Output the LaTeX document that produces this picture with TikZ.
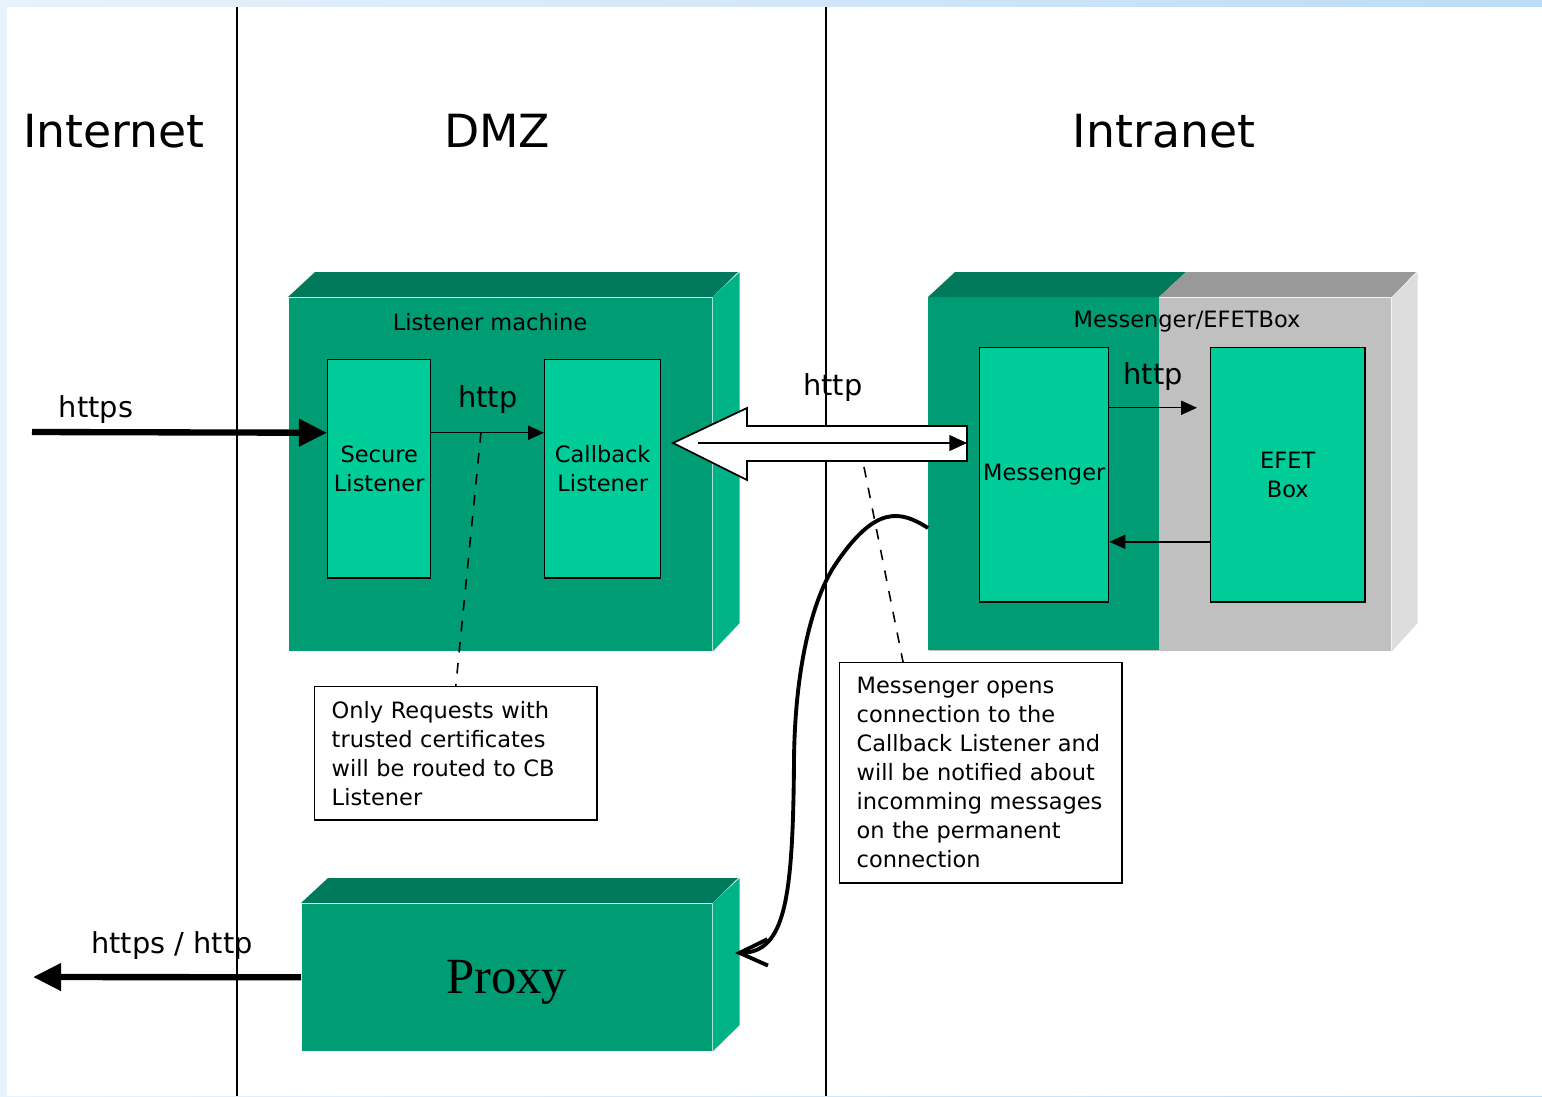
\documentclass[tikz,border=0pt]{standalone}
\usepackage{fontspec}
\setmainfont{DejaVu Sans}
\newfontfamily\proxyfont{Liberation Serif}
\usepackage{tikz}
\usetikzlibrary{shapes, arrows.meta}
\definecolor{frontgreen}{RGB}{0,156,116}
\definecolor{topgreen}{RGB}{0,122,91}
\definecolor{sidegreen}{RGB}{0,179,134}
\definecolor{innergreen}{RGB}{0,204,153}
\definecolor{frontgray}{RGB}{192,192,192}
\definecolor{topgray}{RGB}{153,153,153}
\definecolor{sidegray}{RGB}{221,221,221}
\tikzstyle{front} = [rectangle, anchor = north west, inner sep = 0]
\tikzstyle{inbox} = [rectangle, anchor = north west, draw = black,
  fill = innergreen, align = center, inner sep = 0,
  font = \fontsize{6.4}{8.25}\selectfont]
\tikzstyle{note} = [
  rectangle, anchor = north west, draw = black, fill = white,
  minimum width = 2.82cm, text width = 2.48cm, inner xsep = 0.17cm,
  align = left, font = \fontsize{6.4}{8.25}\selectfont
]
\tikzstyle{heading} = [font = \fontsize{13}{15}\selectfont]
\tikzstyle{proto} = [font = \fontsize{8.2}{10}\selectfont]
\tikzstyle{caption} = [font = \fontsize{6.4}{8}\selectfont]
\tikzstyle{thin} = [-{Triangle[length = 4.5pt, width = 4pt]}]
\tikzstyle{fat} = [line width = 1.8pt, -{Triangle[length = 8pt, width = 7.5pt]}]

\begin{document}
\begin{tikzpicture}[x = 0.01cm, y = -0.01cm]
      \useasboundingbox (0, 0) rectangle (1542, 1096);
      % background
      \shade [left color = {rgb,255:red,232;green,242;blue,251},
        right color = {rgb,255:red,188;green,220;blue,245}]
        (0, 0) rectangle (1542, 1096);
      \fill [white] (7, 7) rectangle (1542, 1096);
      % zones
      \draw [line width = 0.45pt] (237, 7) -- (237, 1096);
      \draw [line width = 0.45pt] (826, 7) -- (826, 1096);
      \node [heading] (head-internet) at (114, 131) {Internet};
      \node [heading] (head-dmz) at (497, 131) {DMZ};
      \node [heading] (head-intranet) at (1164, 131) {Intranet};

      % listener machine
      \node [front, fill = frontgreen, minimum width = 4.23cm,
        minimum height = 3.53cm] (machine-listener) at (288, 297) {};
      \fill [topgreen] (machine-listener.north west) -- ++(27, -25) --
        ++(423, 0) -- (machine-listener.north east) -- cycle;
      \fill [sidegreen] (machine-listener.north east) -- ++(27, -25) --
        ++(0, 351) -- (machine-listener.south east) -- cycle;
      \node [caption] (lbl-listener) at (490, 322) {Listener machine};
      \node [inbox, minimum width = 1.03cm, minimum height = 2.18cm]
        (box-secure) at (327, 359) {Secure\\Listener};
      \node [inbox, minimum width = 1.16cm, minimum height = 2.18cm]
        (box-callback) at (544, 359) {Callback\\Listener};

      % messenger / efet machine
      \node [front, fill = frontgray, minimum width = 4.62cm,
        minimum height = 3.53cm] (machine-msg) at (928, 297) {};
      \fill [frontgreen] (machine-msg.north west) rectangle (1159, 650);
      \fill [topgreen] (machine-msg.north west) -- ++(27, -25) --
        (1186, 272) -- (1159, 297) -- cycle;
      \fill [topgray] (1159, 297) -- (1186, 272) -- (1416, 272) --
        (machine-msg.north east) -- cycle;
      \fill [sidegray] (machine-msg.north east) -- ++(26, -25) --
        ++(0, 351) -- (machine-msg.south east) -- cycle;
      \node [caption] (lbl-msg) at (1187, 322) {Messenger/EFETBox};
      \node [inbox, minimum width = 1.29cm, minimum height = 2.54cm]
        (box-msg) at (979, 347) {Messenger};
      \node [inbox, minimum width = 1.54cm, minimum height = 2.54cm]
        (box-efet) at (1210, 347) {EFET\\Box};

      % proxy
      \node [front, fill = frontgreen, minimum width = 4.10cm,
        minimum height = 1.47cm, text depth = 0pt,
        font = \proxyfont\fontsize{14.4}{16}\selectfont]
        (proxy) at (301, 903) {Proxy};
      \fill [topgreen] (proxy.north west) -- ++(27, -25) -- ++(410, 0) --
        (proxy.north east) -- cycle;
      \fill [sidegreen] (proxy.north east) -- ++(27, -25) -- ++(0, 147) --
        (proxy.south east) -- cycle;

      % inner connections
      \draw [thin] ([yshift = 0.36cm]box-secure.east) --
        ([yshift = 0.36cm]box-callback.west);
      \node [proto] (lbl-http-a) at (488, 400) {http};
      \draw [thin] ([yshift = 0.67cm]box-msg.east) --
        ([xshift = -0.13cm, yshift = 0.67cm]box-efet.west);
      \node [proto] (lbl-http-b) at (1153, 377) {http};
      \draw [thin] ([yshift = -0.67cm]box-efet.west) --
        ([yshift = -0.67cm]box-msg.east);

      % outside connections
      \coordinate (https-in) at (32, 432);
      \draw [fat] (https-in) -- ([yshift = 0.36cm]box-secure.west);
      \node [proto] (lbl-https) at (96, 410) {https};
      \coordinate (proxy-out) at (33, 977);
      \draw [fat] (proxy.west) -- (proxy-out);
      \node [proto] (lbl-proxy) at (172, 946) {https / http};

      % callback connection
      \fill [white, draw = black, line width = 0.5pt] (673, 443) -- (747, 408) --
        (747, 426) -- (967, 426) -- (967, 461) -- (747, 461) -- (747, 480) --
        cycle;
      \coordinate (cb-start) at (698, 443);
      \coordinate (cb-end) at (967, 443);
      \draw [thin, -{Triangle[length = 5pt, width = 4.5pt]}] (cb-start) -- (cb-end);
      \node [proto] (lbl-http-c) at (833, 388) {http};

      % notes
      \node [note, minimum height = 1.33cm] (note-cb) at (314, 686)
        {Only Requests with\\trusted certificates\\will be routed to CB\\Listener};
      \node [note, minimum height = 2.20cm] (note-msg) at (839, 662)
        {Messenger opens\\connection to the\\Callback Listener and\\will be notified about\\incomming messages\\on the permanent\\connection};
      \coordinate (http-mid) at (481, 432);
      \draw [dashed, line width = 0.45pt] (http-mid) -- (note-cb.north);
      \coordinate (cb-low) at (864, 467);
      \draw [dashed, line width = 0.45pt] (cb-low) --
        ([xshift = 0.64cm]note-msg.north west);

      % permanent connection
      \coordinate (msg-out) at (928, 528);
      \coordinate (proxy-in) at (735, 953);
      \draw [line width = 1.1pt, -{Straight Barb[length = 8pt, width = 7.5pt]}]
        (msg-out) .. controls (900, 510) and (875, 505) .. (835, 565)
        .. controls (815, 595) and (795, 660) .. (794, 760)
        .. controls (793, 900) and (785, 952) .. (proxy-in);
\end{tikzpicture}
\end{document}
